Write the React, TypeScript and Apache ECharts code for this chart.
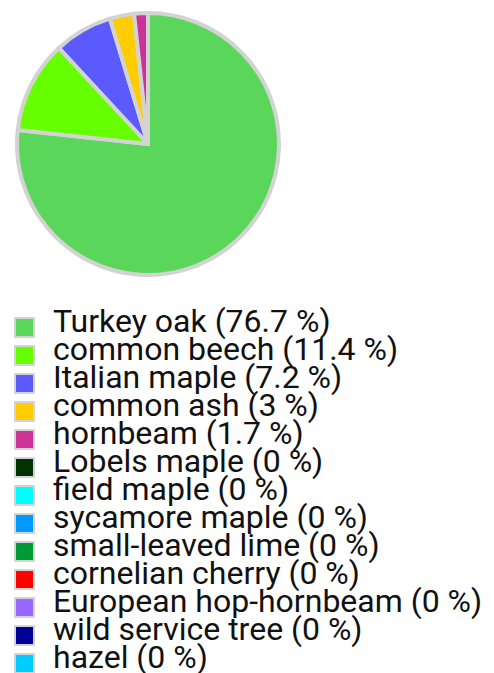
import React, { useEffect, useRef } from "react";
import * as echarts from "echarts";

const species = [
  "Turkey oak",
  "common beech",
  "Italian maple",
  "common ash",
  "hornbeam",
  "Lobels maple",
  "field maple",
  "sycamore maple",
  "small-leaved lime",
  "cornelian cherry",
  "European hop-hornbeam",
  "wild service tree",
  "hazel",
];
const percents = [76.7, 11.4, 7.2, 3, 1.7, 0, 0, 0, 0, 0, 0, 0, 0];
const colors = [
  "#5ad75a",
  "#66ff00",
  "#5a5aff",
  "#ffcc00",
  "#cc3399",
  "#003300",
  "#00ffff",
  "#0099ff",
  "#009933",
  "#ff0000",
  "#9966ff",
  "#000099",
  "#00ccff",
];

export default function App() {
  const ref = useRef<HTMLDivElement>(null);
  useEffect(() => {
    document.body.style.margin = "0";
    const chart = echarts.init(ref.current!, undefined, { renderer: "svg" });
    const pctMap: Record<string, number> = {};
    species.forEach((s, i) => (pctMap[s] = percents[i]));
    chart.setOption({
      animation: false,
      color: colors,
      legend: {
        orient: "vertical",
        left: 14,
        top: 303,
        height: 420,
        padding: 0,
        itemGap: -7,
        itemWidth: 19,
        itemHeight: 33,
        icon: "path://M0,0 M0,14 L19,14 L19,33 L0,33 Z",
        selectedMode: false,
        formatter: (name: string) => `${name} (${pctMap[name]} %)`,
        textStyle: {
          fontFamily: "Roboto",
          fontSize: 32,
          lineHeight: 32,
          color: "#111",
          padding: [0, 0, 0, 14],
        },
        data: species,
      },
      series: [
        {
          type: "pie",
          center: [148, 144],
          radius: [0, 131],
          startAngle: 90,
          clockwise: true,
          label: { show: false },
          labelLine: { show: false },
          emphasis: { disabled: true },
          itemStyle: { borderColor: "#d3d3d3", borderWidth: 4 },
          data: species.map((s, i) => ({ name: s, value: percents[i] })),
        },
      ],
    });
    return () => chart.dispose();
  }, []);
  return <div ref={ref} style={{ width: 494, height: 673 }} />;
}
